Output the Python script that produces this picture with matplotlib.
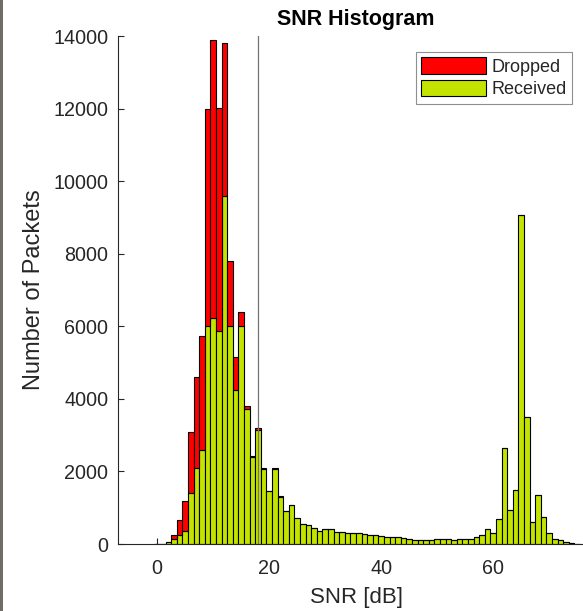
import matplotlib
matplotlib.use('Agg')
import matplotlib.pyplot as plt
from matplotlib.patches import Rectangle

plt.rcParams['font.family'] = ['Liberation Sans', 'DejaVu Sans']

# bin centres in dB (1 dB wide bins)
snr_bins = list(range(0, 76))

# packets received per bin
received = [0, 10, 50, 130, 240, 370, 1400, 2090, 2580, 6000,
            6220, 5875, 9590, 6000, 4235, 6000, 3725, 2400, 3155, 2065,
            1460, 2075, 1300, 905, 1065, 725, 553, 517, 434, 370,
            406, 406, 341, 341, 313, 313, 313, 286, 258, 258,
            230, 203, 203, 203, 175, 147, 110, 110, 110, 110,
            147, 147, 147, 110, 147, 147, 147, 203, 240, 406,
            295, 695, 2645, 925, 1475, 9060, 3510, 615, 1350, 755,
            295, 130, 110, 60, 15, 5]

# packets dropped per bin (stacked on top of received)
dropped = [0, 0, 0, 110, 420, 810, 1690, 2510, 3140, 5990,
           7680, 6135, 4230, 1790, 920, 385, 65, 35, 35, 35,
           10, 10, 10] + [0] * 53

threshold = 18
x_ticks = [0, 20, 40, 60]
y_ticks = list(range(0, 14001, 2000))

red = '#ff0000'
green = '#c4e400'
txt = '0.15'

fig = plt.figure(figsize=(5.83, 6.11), dpi=100, facecolor='white')
ax = fig.add_axes([118 / 583, 67 / 611, 476 / 583, 508 / 611])

ax.bar(snr_bins, received, width=1.0, color=green, edgecolor='k',
       linewidth=0.8, label='Received', zorder=2)
ax.bar(snr_bins, dropped, width=1.0, bottom=received, color=red,
       edgecolor='k', linewidth=0.8, label='Dropped', zorder=2)
ax.axvline(threshold, color='0.45', linewidth=0.9, zorder=3)

ax.set_xlim(-7, 78)
ax.set_ylim(0, 14000)
ax.set_xticks(x_ticks)
ax.set_yticks(y_ticks)
ax.set_axisbelow(True)

ax.spines['right'].set_visible(False)
ax.spines['top'].set_visible(False)
ax.spines['bottom'].set_color(txt)
ax.spines['left'].set_color(txt)
ax.tick_params(axis='x', direction='in', length=4, color=txt, labelcolor=txt,
               labelsize=14.2, pad=11)
ax.tick_params(axis='y', direction='in', length=4, color=txt, labelcolor=txt,
               labelsize=14.2, pad=7)

ax.set_xlabel('SNR [dB]', fontsize=16, color=txt, labelpad=6)
ax.set_ylabel('Number of Packets', fontsize=17, color=txt, labelpad=6)
ax.set_title('SNR Histogram', fontsize=15.5, fontweight='bold', color='k', pad=8)

handles, labels = ax.get_legend_handles_labels()
leg = ax.legend(handles[::-1], labels[::-1], loc='upper right',
                bbox_to_anchor=(572 / 583, 1 - 52 / 611),
                bbox_transform=fig.transFigure, borderaxespad=0,
                fontsize=13, frameon=True, fancybox=False,
                handlelength=3.6, handleheight=1.0, handletextpad=0.3,
                labelspacing=0.25, borderpad=0.3)
leg.get_frame().set_edgecolor('0.45')
leg.get_frame().set_linewidth(0.8)
for t in leg.get_texts():
    t.set_color(txt)

# dark window border on the left edge of the screenshot
fig.patches.append(Rectangle((0, 0), 3 / 583, 1, transform=fig.transFigure,
                             facecolor='#6f6b67', edgecolor='none'))

fig.savefig('out.png', dpi=100, facecolor='white')
